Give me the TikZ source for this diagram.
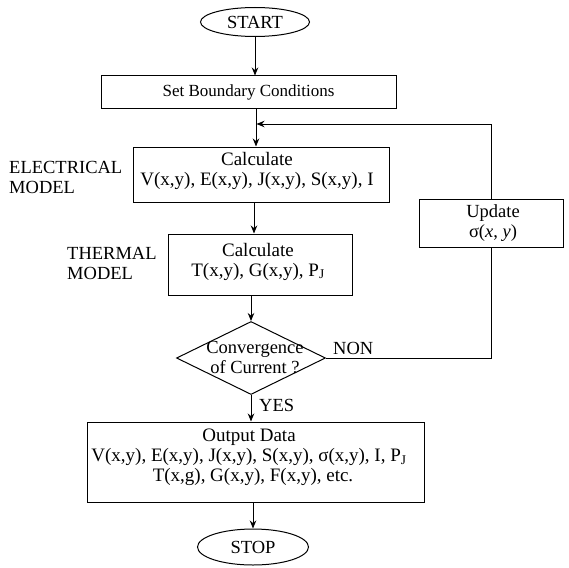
\documentclass[tikz,border=0pt]{standalone}
\usepackage{fontspec}
\setmainfont{Liberation Serif}
\usetikzlibrary{shapes.geometric,arrows.meta}
\begin{document}
\begin{tikzpicture}[x=1pt,y=-1pt,
  every node/.style={font=\fontsize{18.5}{20}\selectfont, inner sep=0pt},
  big/.style={font=\fontsize{19}{20}\selectfont},
  box/.style={draw, rectangle, line width=1pt, align=center},
  term/.style={draw, ellipse, line width=1pt},
  lbl/.style={align=left, anchor=west},
  ln/.style={line width=1pt},
  arr/.style={line width=1pt, -{Stealth[length=8pt,width=6.5pt]}}]
\useasboundingbox (0,0) rectangle (569,567);
% nodes
\node[term, minimum width=109, minimum height=29] (start) at (255,22) {START};
\node[box, minimum width=295, minimum height=32, font=\fontsize{17}{20}\selectfont] (set) at (248.5,92) {Set Boundary Conditions};
\node[box, minimum width=256, minimum height=55] (elec) at (261,174.5) {};
\node[align=center, big] (electxt) at (257,171) {Calculate\\V(x,y), E(x,y), J(x,y), S(x,y), I};
\node[box, minimum width=184, minimum height=61] (therm) at (260,264.5) {};
\node[align=center, big] (thermtxt) at (258,261.5) {Calculate\\T(x,y), G(x,y), P\textsubscript{J}};
\node[draw, diamond, line width=1pt, minimum width=149, minimum height=73] (dec) at (251,358) {};
\node[align=center] (dectxt) at (255,358) {Convergence\\of Current ?};
\node[box, minimum width=144, minimum height=48] (upd) at (491,223) {};
\node[align=center] (updtxt) at (493,223) {Update\\σ(\textit{x}, \textit{y})};
\node[box, minimum width=337, minimum height=80] (out) at (255.5,462) {};
\node[align=center, big] (outtxt) at (249,457) {Output Data\\V(x,y), E(x,y), J(x,y), S(x,y), σ(x,y), I, P\textsubscript{J}\\\hspace{8pt}T(x,g), G(x,y), F(x,y), etc.};
\node[term, minimum width=111, minimum height=36] (stop) at (253,547) {STOP};
% side labels
\node[lbl] (elab) at (9,177) {ELECTRICAL\\MODEL};
\node[lbl] (tlab) at (67,263) {THERMAL\\MODEL};
\node[anchor=west] (non) at (333,348) {NON};
\node[anchor=west] (yes) at (259,405) {YES};
% connectors
\coordinate (j) at (256.5,124);
\draw[arr] (start.south) -- (start.south |- set.north);
\draw[arr] ([xshift=7.5pt]set.south) -- ([xshift=7.5pt]set.south |- elec.north);
\draw[arr] ([xshift=-7pt]elec.south) -- ([xshift=-7pt]elec.south |- therm.north);
\draw[arr] ([xshift=-9pt]therm.south) -- (dec.north);
\draw[arr] (dec.south) -- (dec.south |- out.north);
\draw[arr] (stop.north |- out.south) -- (stop.north);
\draw[ln] (dec.east) -| (upd.south);
\draw[arr] (upd.north) |- (j);
\end{tikzpicture}
\end{document}
